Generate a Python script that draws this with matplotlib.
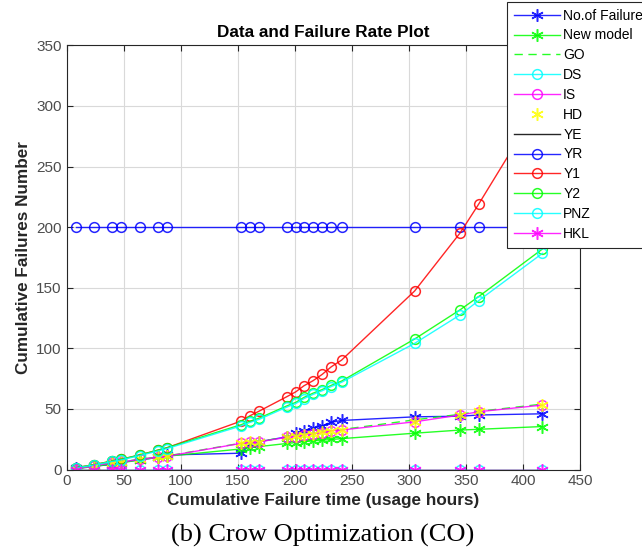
import matplotlib
matplotlib.use("Agg")
import matplotlib.pyplot as plt
from matplotlib import font_manager

# --------------- 数据 ---------------
t_hours = [8, 24, 40, 48, 64, 80, 88, 153, 161, 169, 193, 201, 208, 216, 224, 232, 241, 305, 345, 361, 417]

no_failure = [1, 3, 4, 6, 8, 10, 12, 13.5, 21, 23, 27, 30, 32, 34, 36, 39, 40.5, 43.5, 44, 45, 46]
new_model = [0.5, 2.5, 4.5, 5.5, 8, 10, 11, 17, 18, 19, 21.5, 22.3, 23, 23.6, 24.2, 24.8, 25.5, 30, 32.6, 33.2, 35.5]
go_vals = [0.6, 3, 5.6, 6.2, 8.6, 10.2, 11.2, 21.8, 22.6, 23.2, 26.8, 27.4, 28.8, 29.6, 30.8, 32.3, 33, 41, 45.6, 48, 54]
ds_vals = [0] * len(t_hours)
is_vals = [0.5, 3, 5.5, 6, 8.5, 10, 11, 21.6, 22.4, 22.9, 26.6, 27.1, 28.5, 29.3, 30.4, 32, 32.6, 39.4, 45, 47.7, 53.2]
hd_vals = [0.6, 3, 5.6, 6.1, 8.6, 10.1, 11.1, 21.8, 22.6, 23.1, 26.8, 27.3, 28.7, 29.5, 30.6, 32.2, 32.8, 39.6, 45.2, 47.9, 53.4]
ye_vals = [0] * len(t_hours)
yr_vals = [200] * len(t_hours)
y1_vals = [1.5, 4, 7, 8.5, 12, 16, 18, 40, 44.5, 48.3, 60.1, 64.2, 69.1, 73.3, 78.5, 84.8, 90.3, 147.3, 195.4, 218.8, 305]
y2_vals = [1.5, 4, 7, 8.5, 12, 16, 18, 37, 40, 42.5, 52.5, 55.5, 59.5, 63, 66, 69.5, 73, 107.7, 131.9, 142.6, 182]
pnz_vals = [1.2, 3.7, 6.7, 8, 11.5, 15.3, 17.3, 36, 39, 41.5, 51.5, 54.5, 58.5, 62, 65, 68.5, 72, 104.1, 127.7, 139.3, 178.4]
hkl_vals = [0] * len(t_hours)

x_ticks = [0, 50, 100, 150, 200, 250, 300, 350, 400, 450]
y_ticks = [0, 50, 100, 150, 200, 250, 300, 350]

# --------------- 字体 ---------------
installed = {f.name for f in font_manager.fontManager.ttflist}
sans = "Liberation Sans Narrow" if "Liberation Sans Narrow" in installed else "Liberation Sans"
plt.rcParams["font.family"] = [sans, "DejaVu Sans"]

fig = plt.figure(figsize=(6.42, 5.57), dpi=100)
ax = fig.add_axes([0.1036, 0.157, 0.80, 0.7616])

# MATLAB 风格的 "*" 星号标记
ASTERISK = (6, 2, 0)

# (数值, 标签, 颜色, 线型, 标记)
series = [
    (no_failure, "No.of Failure", "#0000ff", "-", ASTERISK),
    (new_model, "New model", "#00ff00", "-", ASTERISK),
    (go_vals, "GO", "#00ff00", (0, (6, 4)), "None"),
    (ds_vals, "DS", "#00ffff", "-", "o"),
    (is_vals, "IS", "#ff00ff", "-", "o"),
    (hd_vals, "HD", "#ffff00", "None", ASTERISK),
    (ye_vals, "YE", "#000000", "-", "None"),
    (yr_vals, "YR", "#0000ff", "-", "o"),
    (y1_vals, "Y1", "#ff0000", "-", "o"),
    (y2_vals, "Y2", "#00ff00", "-", "o"),
    (pnz_vals, "PNZ", "#00ffff", "-", "o"),
    (hkl_vals, "HKL", "#ff00ff", "-", ASTERISK),
]

for vals, label, color, ls, mk in series:
    ax.plot(t_hours, vals, color=color, linestyle=ls, marker=mk,
            markersize=7 if mk == "o" else 9, markerfacecolor="none" if mk == "o" else color,
            markeredgewidth=1.1, linewidth=1.0, label=label, alpha=0.85)

ax.set_xlim(0, 450)
ax.set_ylim(0, 350)
ax.set_xticks(x_ticks)
ax.set_yticks(y_ticks)
ax.grid(True, color="#d9d9d9", linewidth=0.8)
ax.set_axisbelow(True)
ax.tick_params(direction="in", top=True, right=True, labelsize=11,
               colors="#262626", length=4)
ax.tick_params(labelcolor="#4d4d4d")
for sp in ax.spines.values():
    sp.set_color("#262626")
    sp.set_linewidth(0.8)

ax.set_title("Data and Failure Rate Plot", fontsize=12.3, fontweight="bold", pad=6)
ax.set_xlabel("Cumulative Failure time (usage hours)", fontsize=12.3, fontweight="bold",
              color="#262626", labelpad=3)
ax.set_ylabel("Cumulative Failures Number", fontsize=12.3, fontweight="bold", color="#262626")

leg = ax.legend(loc="upper left", bbox_to_anchor=(507 / 642, 0.997), bbox_transform=fig.transFigure,
                fontsize=10, handlelength=3.3, handletextpad=0.25, labelspacing=0.42,
                borderaxespad=0, fancybox=False, framealpha=1, edgecolor="#262626", borderpad=0.5)
leg.get_frame().set_linewidth(0.8)

fig.text(0.503, 0.028, "(b) Crow Optimization (CO)", ha="center", va="baseline",
         fontsize=19, family=["Liberation Serif", "DejaVu Serif"])

fig.savefig("out.png", dpi=100)
